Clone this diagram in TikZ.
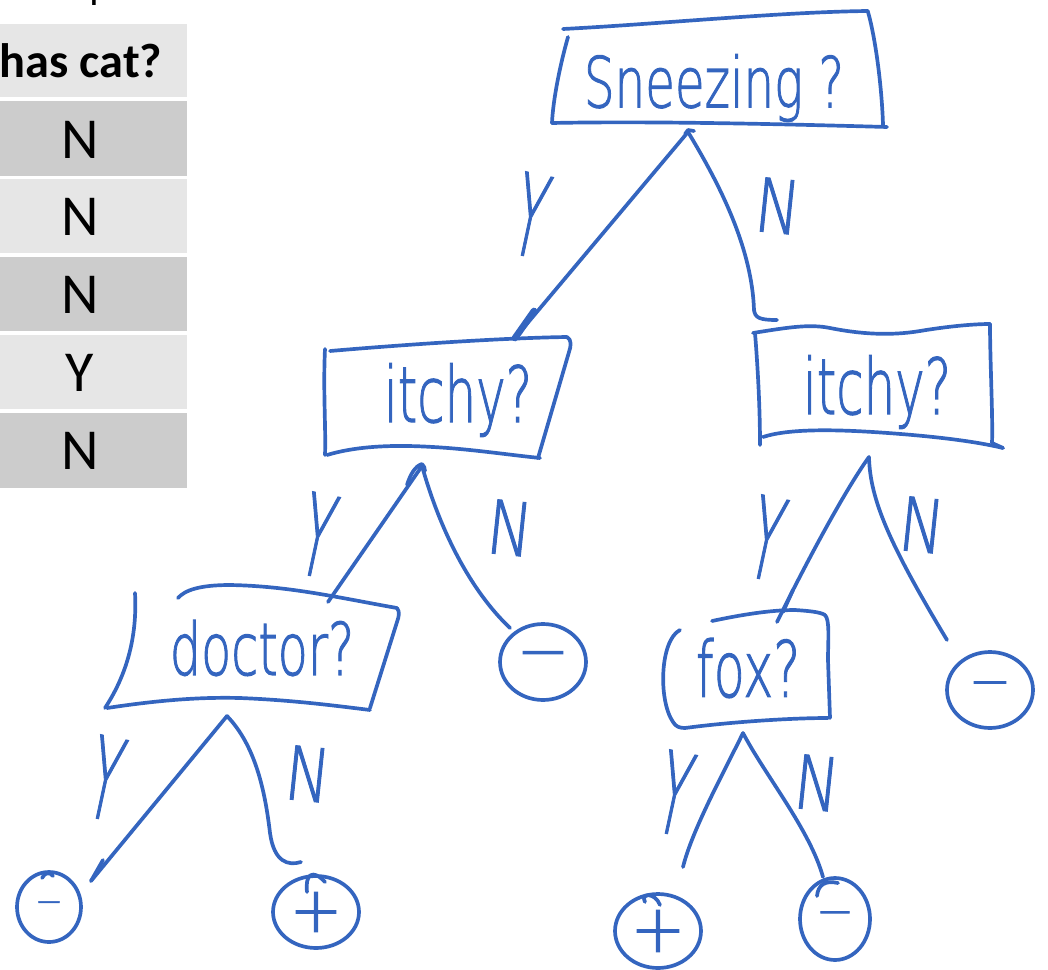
\documentclass[tikz,border=0pt]{standalone}
\usepackage{fontspec}
\setmainfont{Carlito}
\newfontfamily\hand{DejaVuSans-ExtraLight.ttf}[FakeBold=1.6]
\newfontfamily\serifdigit{Liberation Serif}
\usetikzlibrary{shapes.geometric}
\definecolor{ink}{HTML}{3465BF}
\definecolor{cellLight}{HTML}{E6E6E6}
\definecolor{cellDark}{HTML}{CCCCCC}
\newcommand\branchY{\rotatebox{-12}{\scalebox{0.72}[1.6]{Y}}}
\newcommand\branchN{\rotatebox{-6}{\scalebox{0.85}[1.05]{N}}}
\begin{document}
\begin{tikzpicture}[x=0.02cm,y=-0.02cm,
  pen/.style={draw=ink, line width=2.1pt, line cap=round, line join=round},
  cell/.style={inner sep=0pt, text=black, font=\fontsize{33}{36}\selectfont},
  question/.style={inner sep=0pt, text=ink, font=\hand\fontsize{27.5}{30}\selectfont},
  branch/.style={inner sep=0pt, text=ink, font=\hand\fontsize{40}{40}\selectfont},
  leaf/.style={ellipse, draw=ink, line width=2.1pt, inner sep=0pt, text=ink, font=\hand},
]
\useasboundingbox (0,0) rectangle (1048,970);

% ---- attribute column ----
\begin{scope}
\clip (0,0) rectangle (1048,970);
\node[anchor=base, inner sep=0pt, font=\serifdigit\fontsize{24}{24}\selectfont] (digit) at (90,6) {4};
\fill[cellLight] (-30,24) rectangle (187,97);
\fill[cellDark]  (-30,101) rectangle (187,176);
\fill[cellLight] (-30,179) rectangle (187,253);
\fill[cellDark]  (-30,257) rectangle (187,331);
\fill[cellLight] (-30,335) rectangle (187,409);
\fill[cellDark]  (-30,413) rectangle (187,488);
\node[cell, font=\fontsize{27.5}{30}\selectfont\bfseries] (head) at (81,61) {has cat?};
\node[cell] (r1) at (80,140) {N};
\node[cell] (r2) at (80,217) {N};
\node[cell] (r3) at (80,295) {N};
\node[cell] (r4) at (80,373) {Y};
\node[cell] (r5) at (80,451) {N};
\end{scope}

% ---- question boxes ----
\node[question] (sn) at (714,88) {\scalebox{1}[1.45]{Sneezing ?}};
\draw[pen] (563,29) .. controls (660,24) and (780,12) .. (868,11);
\draw[pen] (568,37) .. controls (560,65) and (553,100) .. (552,123);
\draw[pen] (552,123) .. controls (650,121) and (780,124) .. (887,127);
\draw[pen] (868,12) .. controls (876,40) and (882,90) .. (883,125);

\node[question] (itL) at (458,400) {\scalebox{1.03}[1.6]{itchy?}};
\draw[pen] (330,351) .. controls (400,345) and (500,338) .. (567,337);
\draw[pen] (325,349) .. controls (323,390) and (326,430) .. (325,455);
\draw[pen] (327,455) .. controls (360,445) and (400,445) .. (433,447) .. controls (470,449) and (510,455) .. (540,458);
\draw[pen] (567,337) .. controls (572,340) and (571,346) .. (569,352) -- (538,458);

\node[question] (itR) at (877,392) {\scalebox{1.03}[1.6]{itchy?}};
\draw[pen] (753,333) .. controls (790,327) and (810,324) .. (830,328) .. controls (860,334) and (890,336) .. (920,331) .. controls (950,326) and (975,324) .. (990,324);
\draw[pen] (755,333) .. controls (758,370) and (760,410) .. (760,445);
\draw[pen] (763,437) .. controls (790,428) and (840,430) .. (873,432) .. controls (920,435) and (970,440) .. (1003,448);
\draw[pen] (990,324) .. controls (990,360) and (993,420) .. (992,443) -- (1003,448);

\node[question] (doc) at (262,648) {\scalebox{1.02}[1.5]{doctor?}};
\draw[pen] (178,598) .. controls (185,590) and (200,585) .. (230,585) .. controls (290,586) and (340,598) .. (397,608);
\draw[pen] (135,593) .. controls (137,630) and (130,670) .. (105,708);
\draw[pen] (107,708) .. controls (160,700) and (200,697) .. (240,698) .. controls (290,700) and (330,705) .. (370,710);
\draw[pen] (397,608) .. controls (400,612) and (399,616) .. (397,622) -- (370,708);

\node[question] (fox) at (748,668) {\scalebox{1.05}[1.6]{fox?}};
\draw[pen] (712,621) .. controls (740,615) and (770,610) .. (795,610) .. controls (810,611) and (820,612) .. (825,615);
\draw[pen] (680,630) .. controls (660,640) and (658,700) .. (673,722) .. controls (676,727) and (680,728) .. (685,728);
\draw[pen] (685,728) .. controls (730,722) and (790,718) .. (828,718);
\draw[pen] (825,615) .. controls (830,620) and (828,640) .. (828,660) -- (830,718);

% ---- leaves ----
\node[leaf, minimum width=1.72cm, minimum height=1.52cm, font=\hand\fontsize{36}{36}\selectfont] (lmA) at (543,662) {−};
\node[leaf, minimum width=1.72cm, minimum height=1.52cm, font=\hand\fontsize{29}{29}\selectfont] (rmA) at (990,690) {−};
\node[leaf, minimum width=1.28cm, minimum height=1.40cm, font=\hand\fontsize{19}{19}\selectfont] (dY) at (49,907) {−};
\node[leaf, minimum width=1.72cm, minimum height=1.44cm, font=\hand\fontsize{36}{36}\selectfont] (dN) at (316,912) {+};
\node[leaf, minimum width=1.72cm, minimum height=1.48cm, font=\hand\fontsize{38}{38}\selectfont] (fY) at (658,931) {+};
\node[leaf, minimum width=1.40cm, minimum height=1.64cm, font=\hand\fontsize{26}{26}\selectfont] (fN) at (835,919) {−};
% pen lead-ins at the top of the leaves
\draw[pen] (42,878) .. controls (45,872) and (50,872) .. (53,876);
\draw[pen] (307,892) .. controls (305,875) and (312,868) .. (325,882);
\draw[pen] (645,902) .. controls (640,893) and (655,892) .. (660,905);
\draw[pen] (817,896) .. controls (818,885) and (825,880) .. (838,883);

% ---- attachment points ----
\coordinate (sn-b) at (688,132);
\coordinate (itL-t) at (515,338);
\coordinate (itR-t) at (777,320);
\coordinate (itL-b) at (422,466);
\coordinate (itR-b) at (869,457);
\coordinate (doc-t) at (328,602);
\coordinate (fox-t) at (777,622);
\coordinate (doc-b) at (227,716);
\coordinate (fox-b) at (743,733);
\coordinate (lmA-t) at (510,628);
\coordinate (rmA-t) at (947,640);
\coordinate (dY-t) at (91,881);
\coordinate (dN-t) at (301,862);
\coordinate (fY-t) at (683,867);
\coordinate (fN-t) at (823,877);

% ---- branches ----
\draw[pen] (685,134) -- (688,130) -- (694,131);
\draw[pen] (sn-b) -- (itL-t);
\draw[pen, line width=3.8pt] (534,311) -- (itL-t);
\draw[pen] (sn-b) .. controls (722,188) and (752,250) .. (754,310) .. controls (755,318) and (760,320) .. (itR-t);

\draw[pen] (407,485) .. controls (410,475) and (415,466) .. (422,464) .. controls (424,466) and (425,468) .. (425,471);
\draw[pen] (itL-b) -- (doc-t);
\draw[pen] (itL-b) .. controls (440,530) and (470,590) .. (lmA-t);

\draw[pen] (itR-b) .. controls (845,490) and (805,565) .. (fox-t);
\draw[pen] (793,590) -- (783,612);
\draw[pen] (itR-b) .. controls (870,500) and (890,545) .. (rmA-t);

\draw[pen] (doc-b) -- (dY-t);
\draw[pen] (103,860) -- (dY-t);
\draw[pen] (doc-b) .. controls (255,745) and (265,790) .. (270,833) .. controls (274,862) and (288,866) .. (dN-t);

\draw[pen] (fox-b) .. controls (725,770) and (692,830) .. (fY-t);
\draw[pen] (fox-b) .. controls (765,775) and (810,830) .. (fN-t);

% ---- branch labels ----
\node[branch] (ySn) at (531,215) {\branchY};
\node[branch] (nSn) at (778,206) {\branchN};
\node[branch] (yItL) at (318,535) {\branchY};
\node[branch] (nItL) at (510,528) {\branchN};
\node[branch] (yItR) at (767,538) {\branchY};
\node[branch] (nItR) at (922,525) {\branchN};
\node[branch] (yDoc) at (106,778) {\branchY};
\node[branch] (nDoc) at (308,774) {\branchN};
\node[branch] (yFox) at (675,793) {\branchY};
\node[branch] (nFox) at (817,783) {\branchN};
\end{tikzpicture}
\end{document}
